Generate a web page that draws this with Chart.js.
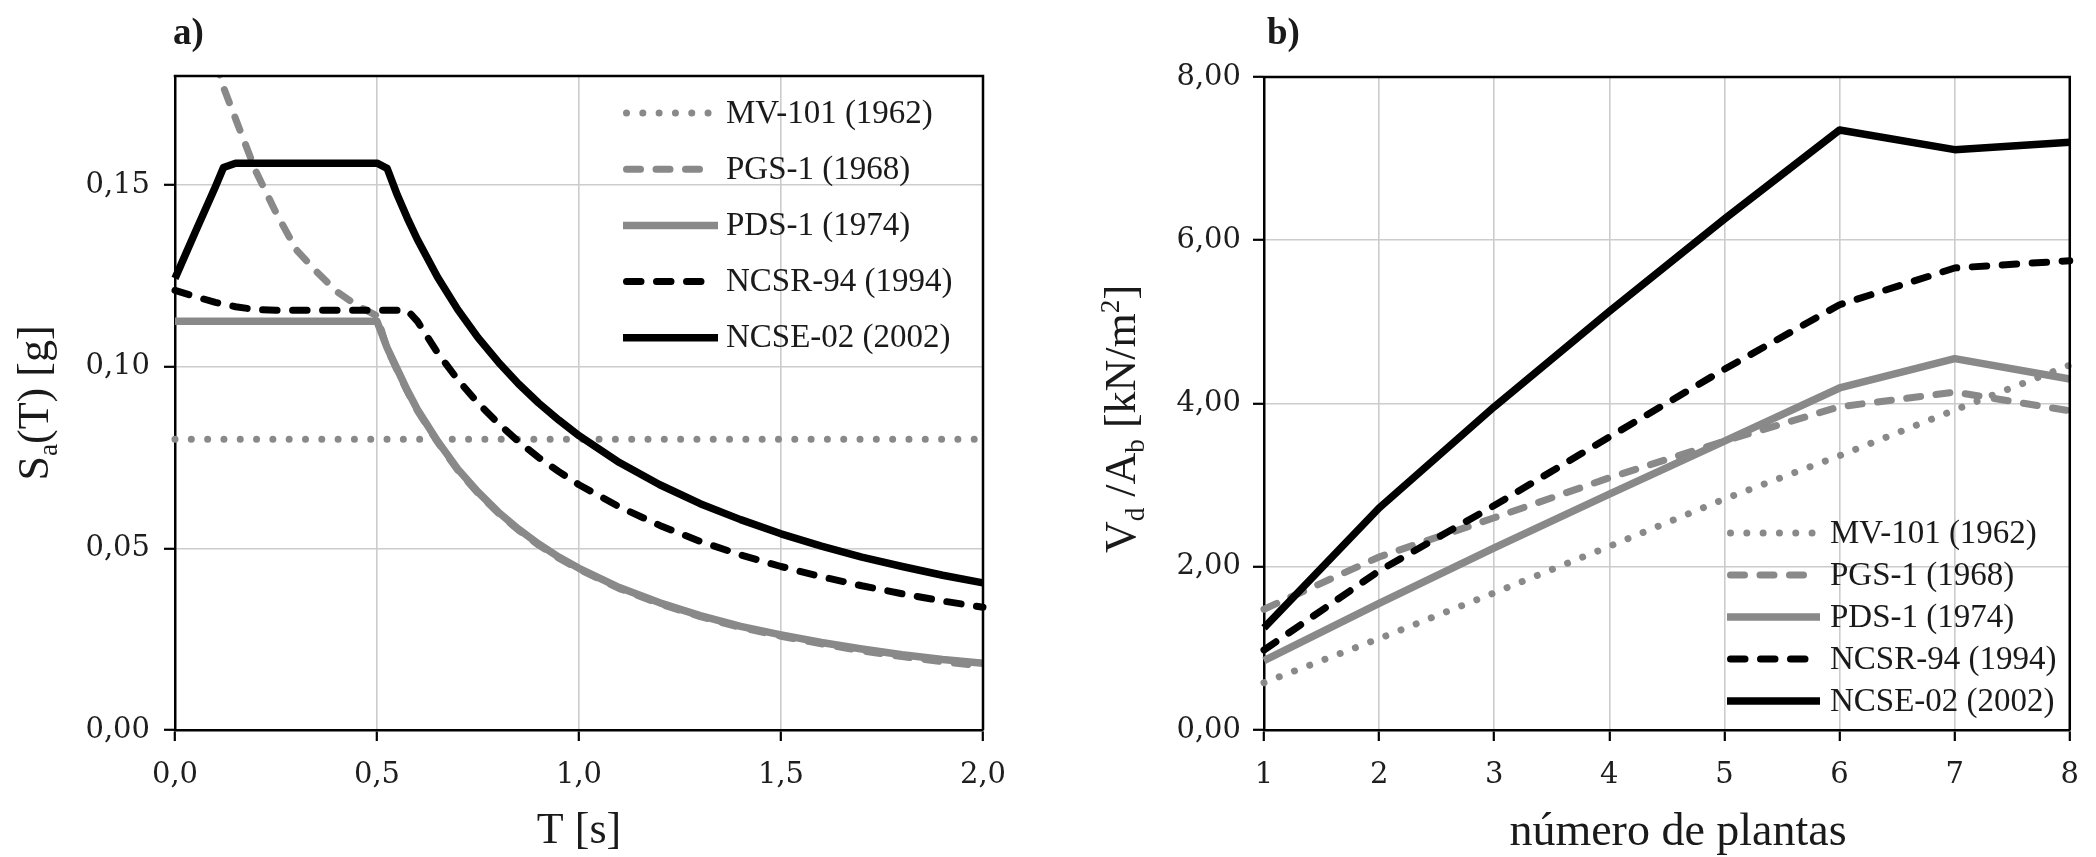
<!DOCTYPE html>
<html lang="es">
<head>
<meta charset="utf-8">
<title>Espectros de respuesta y cortante basal</title>
<script src="https://cdn.jsdelivr.net/npm/chart.js@4.4.1/dist/chart.umd.min.js"></script>
<style>
    html, body { margin: 0; padding: 0; background: #fff; }
    body { width: 2096px; height: 857px; position: relative; overflow: hidden; }
    .panel { position: absolute; top: 0; width: 1048px; height: 857px; }
    #panelA { left: 0; }
    #panelB { left: 1048px; }
</style>
</head>
<body>
<div class="panel" id="panelA"><canvas id="chartA" width="1048" height="857"></canvas></div>
<div class="panel" id="panelB"><canvas id="chartB" width="1048" height="857"></canvas></div>
<script>
'use strict';

var normas = ['MV-101 (1962)', 'PGS-1 (1968)', 'PDS-1 (1974)', 'NCSR-94 (1994)', 'NCSE-02 (2002)'];

// a) espectros de respuesta, Sa(T) en g
var periodos = [0, 0.05, 0.1, 0.12, 0.15, 0.2, 0.25, 0.3, 0.35, 0.4, 0.45, 0.5, 0.525, 0.55, 0.575, 0.6, 0.65, 0.7, 0.75, 0.8, 0.85, 0.9, 0.95, 1.0, 1.1, 1.2, 1.3, 1.4, 1.5, 1.6, 1.7, 1.8, 1.9, 2.0];
var saMV101 = [0.080, 0.080, 0.080, 0.080, 0.080, 0.080, 0.080, 0.080, 0.080, 0.080, 0.080, 0.080, 0.080, 0.080, 0.080, 0.080, 0.080, 0.080, 0.080, 0.080, 0.080, 0.080, 0.080, 0.080, 0.080, 0.080, 0.080, 0.080, 0.080, 0.080, 0.080, 0.080, 0.080, 0.080];
var saPGS1 = [null, null, 0.184, 0.1769, 0.1682, 0.1538, 0.1424, 0.1322, 0.1262, 0.1207, 0.1169, 0.1140, 0.1050, 0.0990, 0.0932, 0.0879, 0.0792, 0.0715, 0.0652, 0.0597, 0.0550, 0.0509, 0.0473, 0.0442, 0.0389, 0.0347, 0.0312, 0.0282, 0.0258, 0.0237, 0.0218, 0.0202, 0.0188, 0.0176];
var saPDS1 = [0.1125, 0.1125, 0.1125, 0.1125, 0.1125, 0.1125, 0.1125, 0.1125, 0.1125, 0.1125, 0.1125, 0.1125, 0.1052, 0.0993, 0.0935, 0.0882, 0.0795, 0.0718, 0.0655, 0.0600, 0.0553, 0.0512, 0.0476, 0.0445, 0.0392, 0.0350, 0.0315, 0.0285, 0.0262, 0.0241, 0.0223, 0.0207, 0.0194, 0.0184];
var saNCSR94 = [0.1210, 0.1193, 0.1177, 0.1172, 0.1165, 0.1157, 0.1155, 0.1155, 0.1155, 0.1155, 0.1155, 0.1155, 0.1155, 0.1155, 0.1155, 0.1125, 0.1038, 0.0964, 0.0900, 0.0844, 0.0794, 0.0750, 0.0711, 0.0675, 0.0614, 0.0563, 0.0519, 0.0482, 0.0450, 0.0422, 0.0397, 0.0375, 0.0355, 0.0338];
var saNCSE02 = [0.1243, 0.1370, 0.1495, 0.1548, 0.1560, 0.1560, 0.1560, 0.1560, 0.1560, 0.1560, 0.1560, 0.1560, 0.1546, 0.1473, 0.1409, 0.1350, 0.1246, 0.1157, 0.1080, 0.1013, 0.0953, 0.0900, 0.0853, 0.0810, 0.0736, 0.0675, 0.0623, 0.0579, 0.0540, 0.0506, 0.0476, 0.0450, 0.0426, 0.0405];
var ticksPeriodo = [0, 0.5, 1.0, 1.5, 2.0];
var ticksSa = [0, 0.05, 0.10, 0.15];

// b) cortante basal por superficie, Vd/Ab en kN/m2
var plantas = ['1', '2', '3', '4', '5', '6', '7', '8'];
var vdMV101 = [0.58, 1.12, 1.68, 2.25, 2.83, 3.36, 3.92, 4.47];
var vdPGS1 = [1.48, 2.12, 2.60, 3.09, 3.54, 3.96, 4.14, 3.91];
var vdPDS1 = [0.85, 1.55, 2.23, 2.89, 3.54, 4.19, 4.55, 4.30];
var vdNCSR94 = [0.98, 1.95, 2.75, 3.59, 4.42, 5.21, 5.66, 5.75];
var vdNCSE02 = [1.25, 2.72, 3.96, 5.13, 6.26, 7.35, 7.11, 7.20];
var ticksVd = [0, 2, 4, 6, 8];

var GRIS = '#898989';
var NEGRO = '#000000';
var estilos = [
    { color: GRIS, width: 7, dash: [0.01, 16.3], cap: 'round' },
    { color: GRIS, width: 7, dash: [14, 15.5], cap: 'round' },
    { color: GRIS, width: 7.5, dash: [], cap: 'butt' },
    { color: NEGRO, width: 7, dash: [14.5, 15.5], cap: 'round' },
    { color: NEGRO, width: 7.5, dash: [], cap: 'butt' }
];

var FUENTE_NUM = '"DejaVu Serif", serif';
var FUENTE_TXT = '"Liberation Serif", serif';

function richWidth(ctx, parts, size) {
    var w = 0;
    parts.forEach(function (p) {
        ctx.font = ((p.sub || p.sup) ? size * 0.62 : size) + 'px ' + FUENTE_TXT;
        w += ctx.measureText(p.t).width;
    });
    return w;
}

function drawRich(ctx, parts, x, y, size) {
    parts.forEach(function (p) {
        var s = (p.sub || p.sup) ? size * 0.62 : size;
        var dy = p.sub ? size * 0.2 : (p.sup ? -size * 0.36 : 0);
        ctx.font = s + 'px ' + FUENTE_TXT;
        ctx.fillText(p.t, x, y + dy);
        x += ctx.measureText(p.t).width;
    });
}

var decorPlugin = {
    id: 'decor',
    afterDraw: function (chart, args, o) {
        var ctx = chart.ctx;
        var a = chart.chartArea;
        ctx.save();

        // marco superior y derecho
        ctx.setLineDash([]);
        ctx.strokeStyle = '#000';
        ctx.lineWidth = 2.5;
        ctx.beginPath();
        ctx.moveTo(a.left - 1.25, a.top);
        ctx.lineTo(a.right, a.top);
        ctx.lineTo(a.right, a.bottom);
        ctx.stroke();

        ctx.fillStyle = '#1a1a1a';
        ctx.textAlign = 'left';
        ctx.textBaseline = 'alphabetic';

        ctx.font = 'bold 37px ' + FUENTE_TXT;
        ctx.fillText(o.panel.text, o.panel.x, o.panel.y);

        var w = richWidth(ctx, o.xTitle.parts, o.xTitle.size);
        drawRich(ctx, o.xTitle.parts, o.xTitle.x - w / 2, o.xTitle.y, o.xTitle.size);

        ctx.save();
        ctx.translate(o.yTitle.x, o.yTitle.y);
        ctx.rotate(-Math.PI / 2);
        w = richWidth(ctx, o.yTitle.parts, o.yTitle.size);
        drawRich(ctx, o.yTitle.parts, -w / 2, 0, o.yTitle.size);
        ctx.restore();

        // leyenda
        var L = o.legend;
        chart.data.datasets.forEach(function (ds, i) {
            var y = L.y0 + i * L.dy;
            var half = ds.borderCapStyle === 'round' ? ds.borderWidth / 2 : 0;
            ctx.setLineDash(ds.borderDash || []);
            ctx.lineCap = ds.borderCapStyle;
            ctx.lineWidth = ds.borderWidth;
            ctx.strokeStyle = ds.borderColor;
            ctx.beginPath();
            ctx.moveTo(L.x + half, y);
            ctx.lineTo(L.x + L.len - half, y);
            ctx.stroke();
            ctx.setLineDash([]);
            ctx.fillStyle = '#1a1a1a';
            ctx.font = L.size + 'px ' + FUENTE_TXT;
            ctx.textBaseline = 'middle';
            ctx.fillText(ds.label, L.textX, y + 1);
        });
        ctx.restore();
    }
};

function buildDatasets(series, xs) {
    return series.map(function (vals, i) {
        var e = estilos[i];
        return {
            label: normas[i],
            data: xs ? xs.map(function (t, k) { return { x: t, y: vals[k] }; }) : vals,
            borderColor: e.color,
            borderWidth: e.width,
            borderDash: e.dash,
            borderCapStyle: e.cap,
            borderJoinStyle: 'round',
            pointRadius: 0,
            pointHoverRadius: 0,
            fill: false,
            tension: 0,
            spanGaps: false,
            order: series.length - i,
            clip: { left: 6, right: 6, top: 0, bottom: 6 }
        };
    });
}

function axisStyle(extra) {
    var base = {
        grid: { color: '#cccccc', lineWidth: 1.6, drawTicks: true, tickLength: 11, tickColor: '#000', tickWidth: 2.2 },
        border: { display: true, color: '#000', width: 2.5 },
        ticks: { color: '#1e1e1e', font: { family: FUENTE_NUM, size: 29 }, autoSkip: false, maxRotation: 0 }
    };
    Object.keys(extra).forEach(function (k) {
        if (k === 'ticks') Object.assign(base.ticks, extra.ticks);
        else base[k] = extra[k];
    });
    return base;
}

function fixedTicks(values) {
    return function (scale) {
        scale.ticks = values.map(function (v) { return { value: v }; });
    };
}

new Chart(document.getElementById('chartA'), {
    type: 'line',
    data: { datasets: buildDatasets([saMV101, saPGS1, saPDS1, saNCSR94, saNCSE02], periodos) },
    options: {
        responsive: false,
        animation: false,
        devicePixelRatio: 1,
        layout: { padding: { left: 0, right: 65, top: 76, bottom: 0 } },
        plugins: {
            legend: { display: false },
            tooltip: { enabled: false },
            decor: {
                panel: { text: 'a)', x: 173, y: 44 },
                xTitle: { parts: [{ t: 'T [s]' }], x: 579, y: 843, size: 44 },
                yTitle: { parts: [{ t: 'S' }, { t: 'a', sub: true }, { t: '(T) [g]' }], x: 48, y: 403, size: 44 },
                legend: { x: 623, len: 95, textX: 726, y0: 113, dy: 56.2, size: 33 }
            }
        },
        scales: {
            x: axisStyle({
                type: 'linear', min: 0, max: 2,
                afterBuildTicks: fixedTicks(ticksPeriodo),
                afterFit: function (s) { s.height = 127; },
                ticks: { padding: 17, callback: function (v) { return v.toFixed(1).replace('.', ','); } }
            }),
            y: axisStyle({
                type: 'linear', min: 0, max: 0.18,
                afterBuildTicks: fixedTicks(ticksSa),
                afterFit: function (s) { s.width = 175; },
                ticks: { padding: 14, callback: function (v) { return v.toFixed(2).replace('.', ','); } }
            })
        }
    },
    plugins: [decorPlugin]
});

new Chart(document.getElementById('chartB'), {
    type: 'line',
    data: { labels: plantas, datasets: buildDatasets([vdMV101, vdPGS1, vdPDS1, vdNCSR94, vdNCSE02]) },
    options: {
        responsive: false,
        animation: false,
        devicePixelRatio: 1,
        layout: { padding: { left: 0, right: 25, top: 77, bottom: 0 } },
        plugins: {
            legend: { display: false },
            tooltip: { enabled: false },
            decor: {
                panel: { text: 'b)', x: 219, y: 44 },
                xTitle: { parts: [{ t: 'número de plantas' }], x: 630, y: 845, size: 46 },
                yTitle: { parts: [{ t: 'V' }, { t: 'd', sub: true }, { t: ' /A' }, { t: 'b', sub: true }, { t: ' [kN/m' }, { t: '2', sup: true }, { t: ']' }], x: 87, y: 419, size: 44 },
                legend: { x: 679, len: 93, textX: 782, y0: 533, dy: 42, size: 33 }
            }
        },
        scales: {
            x: axisStyle({
                type: 'category', offset: false,
                afterFit: function (s) { s.height = 127; },
                ticks: { padding: 17 }
            }),
            y: axisStyle({
                type: 'linear', min: 0, max: 8,
                afterBuildTicks: fixedTicks(ticksVd),
                afterFit: function (s) { s.width = 216; },
                ticks: { padding: 12, callback: function (v) { return v.toFixed(2).replace('.', ','); } }
            })
        }
    },
    plugins: [decorPlugin]
});
</script>
</body>
</html>
